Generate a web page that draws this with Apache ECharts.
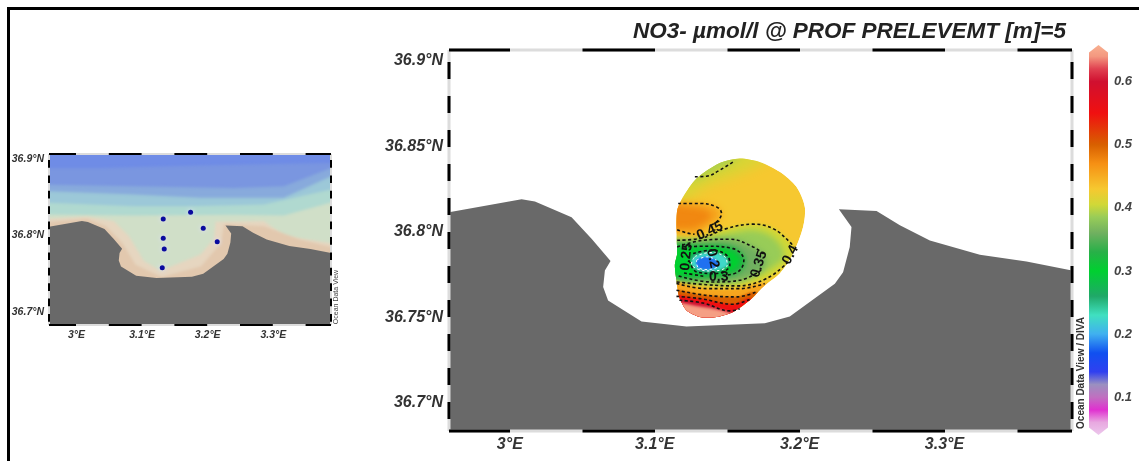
<!DOCTYPE html>
<html><head><meta charset="utf-8">
<style>html,body{margin:0;background:#fff}#c{width:1139px;height:461px;filter:blur(0.55px)}</style>
<script src="https://cdn.jsdelivr.net/npm/echarts@6/dist/echarts.min.js"></script>
</head><body><div id="c"></div>
<script>
const titleText = 'NO3- µmol/l @ PROF PRELEVEMT [m]=5';
const lonRange = [2.958, 3.388];
const latRange = [36.6835, 36.9062];
const lonTicks = [3, 3.1, 3.2, 3.3];
const latTicksMain = [36.7, 36.75, 36.8, 36.85, 36.9];
const latTicksInset = [36.7, 36.8, 36.9];
const colorTicks = [0.1, 0.2, 0.3, 0.4, 0.5, 0.6];
const colorRange = [0.04, 0.658];
const colorValues = [0.04, 0.06, 0.08, 0.1, 0.12, 0.14, 0.17, 0.2, 0.23, 0.26, 0.3, 0.33, 0.36, 0.385, 0.405, 0.43, 0.47, 0.5, 0.55, 0.6, 0.62, 0.64, 0.658];
const colorHex = ['#ecc8ec', '#e8a8e0', '#e030d0', '#c070c0', '#9a90c0', '#3040f0', '#1050f0', '#40b0f0', '#40e0c0', '#20a868', '#00d030', '#28b048', '#70b060', '#98cc58', '#d0d838', '#f6c830', '#f69014', '#d86000', '#f01010', '#d01030', '#e04050', '#f49880', '#f8b090'];

const land = [[2.958,36.8113],[3.0081,36.8189],[3.0173,36.8177],[3.0426,36.8085],[3.0564,36.7959],[3.0695,36.7828],[3.0656,36.7773],[3.0644,36.7676],[3.0678,36.7598],[3.0909,36.7475],[3.1219,36.7446],[3.176,36.7465],[3.1932,36.7504],[3.2243,36.7696],[3.23,36.7763],[3.2346,36.791],[3.2358,36.8027],[3.2271,36.8131],[3.2531,36.8121],[3.2692,36.8037],[3.2899,36.7949],[3.3244,36.7865],[3.3566,36.7826],[3.388,36.7773],[3.388,36.6835],[2.958,36.6835]];
const blob = [[3.1587,36.8428],[3.1449,36.8402],[3.1288,36.8311],[3.1196,36.8204],[3.1155,36.8126],[3.115,36.7989],[3.1155,36.7872],[3.1139,36.7804],[3.115,36.7716],[3.1168,36.7619],[3.1219,36.7541],[3.1311,36.7502],[3.1426,36.7502],[3.1541,36.7531],[3.1656,36.7599],[3.1748,36.7677],[3.1863,36.7755],[3.1955,36.7872],[3.2024,36.8028],[3.2036,36.8145],[3.1978,36.8262],[3.1863,36.835],[3.1725,36.8408]];

// nitrate iso-regions: [value, softness, outline]
const fieldRegions = [
 [0.43, 0, blob],
 [0.41, 12,[[3.10,36.8185],[3.1196,36.8185],[3.1357,36.8265],[3.1587,36.834],[3.1725,36.8395],[3.19,36.85],[3.10,36.85]]],
 [0.39, 8, [[3.11,36.8311],[3.1288,36.8311],[3.1449,36.8376],[3.1541,36.8414],[3.1587,36.85],[3.11,36.85]]],
 [0.455,6, [[3.10,36.8165],[3.1311,36.8165],[3.1426,36.8145],[3.1461,36.8106],[3.1438,36.8067],[3.1334,36.8009],[3.13,36.7979],[3.1219,36.7993],[3.10,36.8012]]],
 [0.475,6, [[3.10,36.8145],[3.1311,36.8135],[3.1392,36.8096],[3.1334,36.8047],[3.1242,36.8018],[3.10,36.8038]]],
 [0.405,4, [[3.10,36.795],[3.1311,36.796],[3.1495,36.8018],[3.1679,36.8044],[3.1817,36.8018],[3.1932,36.794],[3.196,36.789],[3.1921,36.7823],[3.1771,36.7726],[3.1564,36.7683],[3.1357,36.769],[3.10,36.7706]]],
 [0.385,6, [[3.10,36.793],[3.1334,36.7954],[3.1518,36.7989],[3.1679,36.8009],[3.1794,36.798],[3.1875,36.7911],[3.1886,36.7843],[3.1759,36.7765],[3.1564,36.7706],[3.1357,36.77],[3.10,36.7726]]],
 [0.36, 6, [[3.10,36.7911],[3.1334,36.795],[3.1518,36.7956],[3.1679,36.7911],[3.1759,36.7853],[3.1748,36.7784],[3.1587,36.7716],[3.1392,36.7706],[3.10,36.7745]]],
 [0.325,5, [[3.10,36.7905],[3.1357,36.7925],[3.1541,36.7911],[3.1625,36.7843],[3.1585,36.7765],[3.1403,36.773],[3.10,36.775]]],
 [0.3,  4, [[3.10,36.7885],[3.1357,36.7905],[3.1525,36.7888],[3.1585,36.7833],[3.1545,36.778],[3.1403,36.775],[3.10,36.7765]]],
 [0.26, 2, [[3.1265,36.7872],[3.1392,36.7892],[3.1507,36.7853],[3.1518,36.7804],[3.1415,36.7755],[3.1288,36.7765],[3.1242,36.7823]]],
 [0.225,2, [[3.1277,36.7855],[3.138,36.7878],[3.1484,36.7853],[3.15,36.7804],[3.1403,36.777],[3.13,36.778],[3.1254,36.7814]]],
 [0.18, 2, [[3.1288,36.7833],[3.1357,36.7853],[3.1426,36.7833],[3.1442,36.7804],[3.1368,36.7779],[3.13,36.779]]],
 [0.455,3, [[3.10,36.7706],[3.1357,36.7667],[3.1587,36.7667],[3.1759,36.7697],[3.19,36.76],[3.16,36.74],[3.10,36.74]]],
 [0.5,  2, [[3.10,36.7658],[3.1357,36.7628],[3.1564,36.7619],[3.1702,36.7648],[3.19,36.755],[3.16,36.74],[3.10,36.74]]],
 [0.55, 2, [[3.10,36.7622],[3.1311,36.7609],[3.1541,36.7576],[3.1667,36.7609],[3.18,36.75],[3.16,36.74],[3.10,36.74]]],
 [0.6,  2, [[3.10,36.7599],[3.1334,36.7583],[3.1518,36.7537],[3.1587,36.755],[3.17,36.745],[3.10,36.745]]],
 [0.645,3, [[3.10,36.758],[3.1334,36.756],[3.1518,36.7525],[3.1587,36.748],[3.10,36.74]]]
];
const contourLines = [
 [[3.1277,36.8321],[3.1357,36.8324],[3.1449,36.836],[3.1553,36.8414]],
 [[3.1162,36.8165],[3.1311,36.8165],[3.1426,36.8145],[3.1461,36.8106],[3.1438,36.8067],[3.1392,36.804]],
 [[3.1155,36.8012],[3.1219,36.7993],[3.1275,36.7985]],
 [[3.1155,36.795],[3.1311,36.796],[3.1495,36.8018],[3.1679,36.8044],[3.1817,36.8018],[3.1932,36.794],[3.196,36.791]],
 [[3.1921,36.7823],[3.1771,36.7726],[3.1564,36.7683],[3.1357,36.769],[3.115,36.7706]],
 [[3.1155,36.7911],[3.1334,36.795],[3.1518,36.7956],[3.1679,36.7911],[3.1759,36.7865]],
 [[3.1735,36.7775],[3.1587,36.7716],[3.1392,36.7706],[3.115,36.7745]],
 [[3.1196,36.7911],[3.1357,36.7915],[3.1541,36.7901],[3.1615,36.7833],[3.1575,36.7765],[3.1465,36.7745]],
 [[3.1335,36.774],[3.1196,36.7759]],
 [[3.1265,36.7872],[3.1392,36.7892],[3.1507,36.7853],[3.1518,36.7804],[3.1415,36.7755],[3.1288,36.7765],[3.1242,36.7823]],
 [[3.115,36.7697],[3.1357,36.7667],[3.1587,36.7667],[3.1759,36.7697]],
 [[3.115,36.7658],[3.1357,36.7628],[3.1564,36.7619],[3.1702,36.7648]],
 [[3.115,36.7622],[3.1311,36.7609],[3.1541,36.7576],[3.1667,36.7609]],
 [[3.117,36.7599],[3.1334,36.7583],[3.1518,36.7537],[3.1587,36.755]]
];
const whiteContours = [
 [[3.1277,36.7855],[3.138,36.7878],[3.1484,36.7853],[3.15,36.7804],[3.1403,36.777],[3.13,36.778],[3.1254,36.7814],[3.1277,36.7855]],
 [[3.1288,36.7833],[3.1357,36.7853],[3.1426,36.7833],[3.1442,36.7804],[3.1368,36.7779],[3.13,36.779],[3.1288,36.7833]]
];
// contour labels: [lon, lat, text, angle]
const contourLabels = [
 [3.1380,36.8005,'0.45',24],[3.1937,36.7865,'0.4',62],[3.1720,36.7810,'0.35',72],[3.1442,36.7732,'0.3',0],[3.1219,36.7852,'0.25',84],[3.1400,36.7843,'0.2',-78]
];
const stations = [[3.1322,36.8216],[3.1739,36.8303],[3.1932,36.8094],[3.2145,36.792],[3.1322,36.7964],[3.1337,36.7825],[3.1307,36.7582]];

// inset background bands, each filling everything below its upper edge
const seaEdges = [
 [[2.958,36.93],[3.388,36.93]],
 [[2.958,36.8879],[3.0366,36.8879],[3.1383,36.8901],[3.24,36.8922],[3.388,36.8944]],
 [[2.958,36.8663],[3.0874,36.8642],[3.24,36.862],[3.3162,36.8642],[3.388,36.8879]],
 [[2.958,36.8577],[3.0874,36.8534],[3.1891,36.8491],[3.3162,36.8491],[3.388,36.8771]],
 [[2.958,36.8426],[3.0874,36.8383],[3.1688,36.8383],[3.2857,36.8405],[3.388,36.8599]],
 [[2.958,36.8275],[3.0874,36.826],[3.24,36.827],[3.3162,36.826],[3.388,36.843]],
 [[2.958,36.8218],[3.0163,36.8244],[3.0569,36.8188],[3.0798,36.7994],[3.1027,36.767],[3.1281,36.754],[3.1891,36.7752],[3.2095,36.7959],[3.212,36.818],[3.2857,36.8188],[3.3162,36.7994],[3.388,36.79]],
 [[2.958,36.8175],[3.0163,36.8215],[3.045,36.812],[3.07,36.79],[3.09,36.762],[3.13,36.746],[3.19,36.76],[3.22,36.79],[3.225,36.815],[3.2857,36.812],[3.34,36.795],[3.388,36.785]]
];
const seaColors = ['#6f8ce6','#7a96e0','#88aadc','#9cc8d8','#b0d9d0','#d0dfc8','#e6d6c0','#e2c8ae'];

function hexRgb(h){return [1,3,5].map(i=>parseInt(h.substr(i,2),16));}
function valueColor(v){
  let i=0; while(i<colorValues.length-2 && v>colorValues[i+1]) i++;
  const t=Math.min(1,Math.max(0,(v-colorValues[i])/(colorValues[i+1]-colorValues[i])));
  const a=hexRgb(colorHex[i]),b=hexRgb(colorHex[i+1]);
  return 'rgb('+a.map((c,k)=>Math.round(c+(b[k]-c)*t)).join(',')+')';
}
const fontFam='"Liberation Sans", Arial, sans-serif';
const labelStyle=(size)=>({fontFamily:fontFam,fontStyle:'italic',fontWeight:'bold',fontSize:size,color:'#333'});

function axesFor(gridIndex, latTicks, size, margin){
  return {
    x:{type:'value',gridIndex,min:lonRange[0],max:lonRange[1],splitLine:{show:false},axisLine:{show:false},axisTick:{show:false},
       axisLabel:Object.assign(labelStyle(size),{margin,customValues:lonTicks,formatter:v=>v+'°E',hideOverlap:false})},
    y:{type:'value',gridIndex,min:latRange[0],max:latRange[1],splitLine:{show:false},axisLine:{show:false},axisTick:{show:false},
       axisLabel:Object.assign(labelStyle(size),{margin,padding:[3,0,0,0],customValues:latTicks,formatter:v=>v+'°N',hideOverlap:false})}
  };
}
const mainAxes=axesFor(0,latTicksMain,16,6), insetAxes=axesFor(1,latTicksInset,10.5,5);

const OFF=3000;
const gridOutline=[[lonRange[0],latRange[0]],[lonRange[1],latRange[0]],[lonRange[1],latRange[1]],[lonRange[0],latRange[1]]];
function polySeries(g,items,opts){
  opts=opts||{};
  return {type:'custom',coordinateSystem:'cartesian2d',xAxisIndex:g,yAxisIndex:g,silent:true,z:opts.z||2,
    data:items.map((_,i)=>[i,0]),encode:{x:0,y:1},
    renderItem:(p,api)=>{
      const it=items[api.value(0)];
      const poly={type:'polygon',shape:{points:it.pts.map(c=>api.coord(c)),smooth:it.smooth||0},style:{fill:it.fill}};
      // soft edged regions are painted by their blurred shadow only
      if(it.blur){poly.x=-OFF;poly.style.shadowBlur=it.blur;poly.style.shadowColor=it.fill;poly.style.shadowOffsetX=OFF;}
      const grp={type:'group',children:[poly]};
      if(it.clip) grp.clipPath={type:'polygon',shape:{points:it.clip.map(c=>api.coord(c)),smooth:it.clipSmooth||0}};
      return grp;
    }};
}
function lineSeries(g,data,color,width,dash,offset,smooth,z){
  return {type:'line',xAxisIndex:g,yAxisIndex:g,data,showSymbol:false,silent:true,clip:false,smooth:smooth||false,z:z,
    lineStyle:{color,width,type:dash||'solid',dashOffset:offset||0}};
}
function frame(g,w,hDash,hOff,vDash,vOff){
  const [x0,x1]=lonRange,[y0,y1]=latRange,out=[];
  [[[x0,y1],[x1,y1]],[[x0,y0],[x1,y0]]].forEach(d=>{out.push(lineSeries(g,d,'#dcdcdc',w,'solid',0,false,6));out.push(lineSeries(g,d,'#000',w,hDash,hOff,false,7));});
  [[[x0,y1],[x0,y0]],[[x1,y1],[x1,y0]]].forEach(d=>{out.push(lineSeries(g,d,'#dcdcdc',w,'solid',0,false,6));out.push(lineSeries(g,d,'#000',w,vDash,vOff,false,7));});
  return out;
}
const series=[];
// main map
series.push(polySeries(0,fieldRegions.map((r,i)=>({pts:r[2],fill:valueColor(r[0]),smooth:0.35,clip:blob,clipSmooth:0.25,blur:r[1]})),{z:2}));
series.push(polySeries(0,[{pts:land,fill:'#696969'}],{z:4}));
contourLines.forEach(l=>series.push(lineSeries(0,l,'#111',1.6,[3,2.5],0,0.4,5)));
whiteContours.forEach(l=>series.push(lineSeries(0,l,'#fff',1,[2.5,2.5],0,0.4,5)));
series.push({type:'custom',coordinateSystem:'cartesian2d',xAxisIndex:0,yAxisIndex:0,silent:true,z:6,
  data:contourLabels.map(l=>[l[0],l[1]]),encode:{x:0,y:1},
  renderItem:(p,api)=>{const l=contourLabels[p.dataIndex],c=api.coord([l[0],l[1]]);
    return {type:'text',x:c[0],y:c[1],rotation:l[3]*Math.PI/180,style:{text:l[2],fill:'#111',font:'bold 14px '+fontFam,textAlign:'center',textVerticalAlign:'middle'}};}});
series.push(...frame(0,3,[72.5,72.5],11.5,[17,17],22));
// inset
const [x0,x1]=lonRange, far=0.03;
series.push(polySeries(1,seaEdges.map((e,i)=>({
    pts:[[x0-far,e[0][1]]].concat(e,[[x1+far,e[e.length-1][1]],[x1+far,latRange[0]-far],[x0-far,latRange[0]-far]]),
    fill:seaColors[i],blur:i?3:0,clip:gridOutline})),{z:2}));
series.push(polySeries(1,[{pts:land,fill:'#696969'}],{z:4}));
series.push({type:'scatter',xAxisIndex:1,yAxisIndex:1,data:stations,symbolSize:5,silent:true,z:5,itemStyle:{color:'#0a0a9e',shadowBlur:5,shadowColor:'#e0e0ff',opacity:1}});
series.push(...frame(1,2,[32.8,32.8],5.8,[7.7,7.7],9.4));
// colour bar
series.push({type:'custom',coordinateSystem:'cartesian2d',xAxisIndex:2,yAxisIndex:2,silent:true,clip:false,data:[[0,colorRange[0]]],encode:{x:0,y:1},
  renderItem:(p,api)=>{
    const [a,b]=colorRange,span=b-a;
    const pts=[[0,a+.012],[.5,a],[1,a+.012],[1,b-.012],[.5,b],[0,b-.012]].map(c=>api.coord(c));
    return {type:'polygon',shape:{points:pts},style:{fill:new echarts.graphic.LinearGradient(0,1,0,0,colorValues.map((v,i)=>({offset:(v-a)/span,color:colorHex[i]})))}};
  }});

const chart=echarts.init(document.getElementById('c'),null,{renderer:'canvas'});
chart.setOption({
  animation:false,backgroundColor:'#fff',
  title:{text:titleText,right:68,top:15,textStyle:Object.assign(labelStyle(22.5),{color:'#222'})},
  grid:[{left:449,top:50,width:623,height:381},{left:49,top:154,width:282,height:171},{left:1089,top:45,width:19,height:390}],
  xAxis:[mainAxes.x,insetAxes.x,{type:'value',gridIndex:2,min:0,max:1,show:false}],
  yAxis:[mainAxes.y,insetAxes.y,{type:'value',gridIndex:2,position:'right',min:colorRange[0],max:colorRange[1],splitLine:{show:false},axisLine:{show:false},axisTick:{show:false},
    axisLabel:Object.assign(labelStyle(13),{margin:6,padding:[3,0,0,0],customValues:colorTicks,formatter:v=>v.toFixed(1),color:'#444'})}],
  series,
  graphic:[
    {type:'rect',shape:{x:7,y:7,width:1132,height:3},style:{fill:'#000'},silent:true},
    {type:'rect',shape:{x:7,y:7,width:3,height:454},style:{fill:'#000'},silent:true},
    {type:'text',x:1081,y:373,rotation:Math.PI/2,style:{text:'Ocean Data View / DIVA',font:'bold 10px '+fontFam,fill:'#333',textAlign:'center',textVerticalAlign:'middle'},silent:true},
    {type:'text',x:336,y:297,rotation:Math.PI/2,style:{text:'Ocean Data View',font:'7px '+fontFam,fill:'#444',textAlign:'center',textVerticalAlign:'middle'},silent:true}
  ]
});
</script></body></html>
